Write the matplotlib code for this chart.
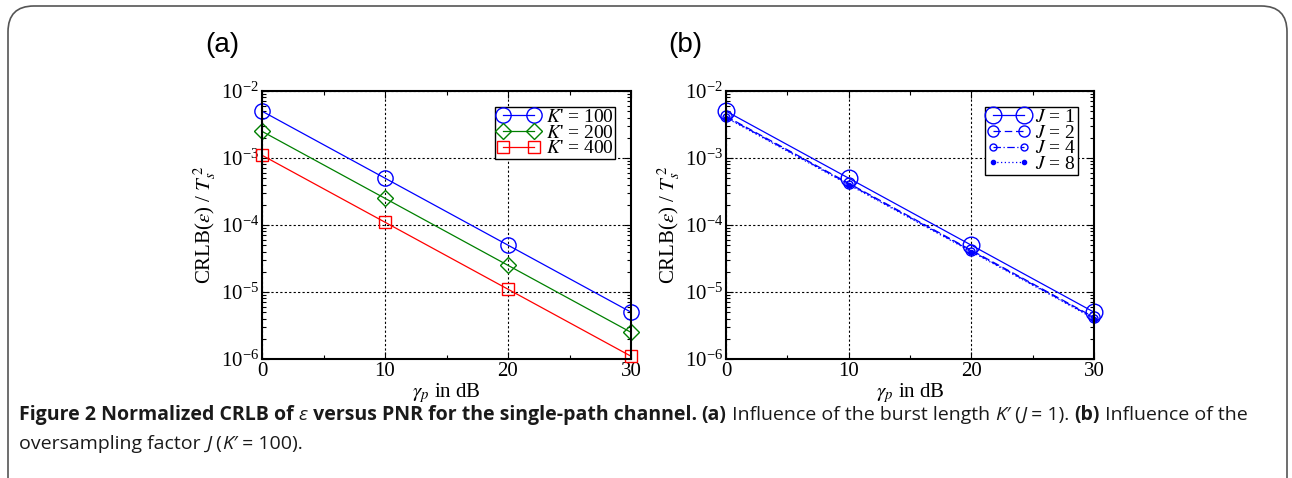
"""Normalized CRLB of epsilon versus PNR, single-path channel (two panels)."""

import matplotlib

matplotlib.use("Agg")

import matplotlib.pyplot as plt
from matplotlib.patches import FancyBboxPatch
from matplotlib.ticker import FixedLocator, LogLocator, NullFormatter
import numpy as np

# PNR in dB (x axis for both panels)
PNR_DB = [0, 10, 20, 30]

# panel (a): burst length K' (J = 1)
K_LABELS = ["100", "200", "400"]
CRLB_K100 = [5.0e-3, 5.0e-4, 5.0e-5, 5.0e-6]
CRLB_K200 = [2.5e-3, 2.5e-4, 2.5e-5, 2.5e-6]
CRLB_K400 = [1.1e-3, 1.1e-4, 1.1e-5, 1.1e-6]

# panel (b): oversampling factor J (K' = 100)
J_LABELS = ["1", "2", "4", "8"]
CRLB_J1 = [5.0e-3, 5.0e-4, 5.0e-5, 5.0e-6]
CRLB_J2 = [4.2e-3, 4.2e-4, 4.2e-5, 4.2e-6]
CRLB_J4 = [4.1e-3, 4.1e-4, 4.1e-5, 4.1e-6]
CRLB_J8 = [4.0e-3, 4.0e-4, 4.0e-5, 4.0e-6]

W, H = 1292, 478
CAP_FONT = "Open Sans"

plt.rcParams["font.family"] = "Liberation Serif"
plt.rcParams["mathtext.fontset"] = "stix"


def style_axes(ax):
    ax.set_yscale("log")
    ax.set_xlim(0, 30)
    ax.set_ylim(1e-6, 1e-2)
    ax.xaxis.set_major_locator(FixedLocator([0, 10, 20, 30]))
    ax.xaxis.set_minor_locator(FixedLocator([5, 15, 25]))
    ax.yaxis.set_major_locator(LogLocator(base=10, numticks=10))
    ax.yaxis.set_minor_locator(LogLocator(base=10, subs=np.arange(2, 10), numticks=10))
    ax.yaxis.set_minor_formatter(NullFormatter())
    ax.tick_params(which="both", direction="in", top=True, right=True,
                   labelsize=15, pad=2, width=0.8)
    ax.tick_params(which="major", length=5)
    ax.tick_params(which="minor", length=3)
    ax.grid(True, which="major", color="black", linestyle=(0, (2, 2)), linewidth=0.8)
    for sp in ax.spines.values():
        sp.set_linewidth(1.5)
    ax.set_xlabel(r"$\gamma_p$ in dB", fontsize=15, labelpad=0)
    ax.set_ylabel(r"CRLB($\epsilon$) / $T_s^{\,2}$", fontsize=15, labelpad=2)


def add_legend(ax):
    ax.legend(loc="upper right", fontsize=14, numpoints=2, fancybox=False,
              edgecolor="black", framealpha=1, handlelength=2.2, handletextpad=0.3,
              borderpad=0.1, labelspacing=-0.1, borderaxespad=0.8)


fig = plt.figure(figsize=(W / 100, H / 100), dpi=100)

# rounded frame around the figure
frame = FancyBboxPatch((8 / W, -0.1), (1279 / W), 1.1 - 6 / H,
                       boxstyle="round,pad=0,rounding_size=0.02",
                       transform=fig.transFigure, fill=False,
                       edgecolor="#555555", linewidth=1.2, mutation_aspect=W / H)
fig.patches.append(frame)

ax_a = fig.add_axes([262 / W, 1 - 359 / H, 369 / W, 268 / H])
ax_b = fig.add_axes([726 / W, 1 - 359 / H, 368 / W, 268 / H])

# panel (a)
for vals, lab, color, marker, ms in [
    (CRLB_K100, K_LABELS[0], "#0000ff", "o", 11),
    (CRLB_K200, K_LABELS[1], "#008000", "D", 8),
    (CRLB_K400, K_LABELS[2], "#ff0000", "s", 9),
]:
    ax_a.plot(PNR_DB, vals, color=color, marker=marker, markersize=ms,
              markerfacecolor="none", linewidth=0.9, clip_on=False,
              label=rf"$K$' = {lab}")
style_axes(ax_a)
add_legend(ax_a)

# panel (b)
for vals, lab, ls, marker, ms, mfc in [
    (CRLB_J1, J_LABELS[0], "-", "o", 12, "none"),
    (CRLB_J2, J_LABELS[1], (0, (6, 3)), "o", 8, "none"),
    (CRLB_J4, J_LABELS[2], (0, (6, 2, 1, 2)), "o", 5, "none"),
    (CRLB_J8, J_LABELS[3], (0, (1, 2)), "o", 3, "#0000ff"),
]:
    ax_b.plot(PNR_DB, vals, color="#0000ff", linestyle=ls, marker=marker,
              markersize=ms, markerfacecolor=mfc, linewidth=0.9, clip_on=False,
              label=rf"$J$ = {lab}")
style_axes(ax_b)
add_legend(ax_b)

fig.text(205 / W, 1 - 45 / H, "(a)", fontsize=20, family="Liberation Sans", va="center")
fig.text(668 / W, 1 - 45 / H, "(b)", fontsize=20, family="Liberation Sans", va="center")

# caption, drawn piece by piece so bold and regular runs can be mixed
renderer = fig.canvas.get_renderer()


def caption_line(pieces, x0, y0):
    x = x0
    for text, weight, style in pieces:
        t = fig.text(x / W, 1 - y0 / H, text, fontsize=14, family=CAP_FONT,
                     weight=weight, style=style, va="center", color="#1a1a1a")
        x = t.get_window_extent(renderer).x1
    return x


caption_line([
    ("Figure 2 Normalized CRLB of ", "bold", "normal"),
    ("ε", "normal", "italic"),
    (" versus PNR for the single-path channel. ", "bold", "normal"),
    ("(a)", "bold", "normal"),
    (" Influence of the burst length ", "normal", "normal"),
    ("K′", "normal", "italic"),
    (" (", "normal", "normal"),
    ("J", "normal", "italic"),
    (" = 1). ", "normal", "normal"),
    ("(b)", "bold", "normal"),
    (" Influence of the", "normal", "normal"),
], 19, 415)
caption_line([
    ("oversampling factor ", "normal", "normal"),
    ("J", "normal", "italic"),
    (" (", "normal", "normal"),
    ("K′", "normal", "italic"),
    (" = 100).", "normal", "normal"),
], 19, 444)

fig.savefig("out.png", dpi=100)
